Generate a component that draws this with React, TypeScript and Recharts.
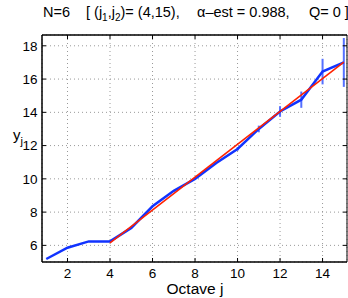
import { ComposedChart, Line, XAxis, YAxis, CartesianGrid, ErrorBar } from "recharts";

const octaves = [1, 2, 3, 4, 5, 6, 7, 8, 9, 10, 11, 12, 13, 14, 15];
const yj = [5.18, 5.86, 6.24, 6.24, 7.05, 8.35, 9.28, 10.0, 10.95, 11.8, 13.0, 14.05, 14.76, 16.45, 17.0];
const yErr = [0, 0, 0, 0, 0, 0, 0, 0, 0, 0.1, 0.2, 0.32, 0.49, 0.77, 1.47];
// regression line over (j1, j2) = (4, 15)
const fitJ = [4, 15];
const fitY = [6.15, 17.02];

const xTicks = [2, 4, 6, 8, 10, 12, 14];
const yTicks = [6, 8, 10, 12, 14, 16, 18];

const FONT = "'Liberation Sans', Arial, Helvetica, sans-serif";

const data = octaves.map((j, i) => {
  const fi = fitJ.indexOf(j);
  return { j, y: yj[i], err: yErr[i], fit: fi >= 0 ? fitY[fi] : undefined };
});

const XTick = (props: any) => {
  const { x, y, payload } = props;
  return (
    <g>
      <line x1={x} x2={x} y1={y} y2={y - 4} stroke="#000" />
      <line x1={x} x2={x} y1={35} y2={39} stroke="#000" />
      <text x={x} y={y + 15.5} textAnchor="middle" fontSize={13.5} fontFamily={FONT} fill="#000">
        {payload.value}
      </text>
    </g>
  );
};

const YTick = (props: any) => {
  const { x, y, payload } = props;
  return (
    <g>
      <line x1={x} x2={x + 4} y1={y} y2={y} stroke="#000" />
      <line x1={343} x2={347} y1={y} y2={y} stroke="#000" />
      <text x={x - 4.5} y={y + 4.7} textAnchor="end" fontSize={13.5} fontFamily={FONT} fill="#000">
        {payload.value}
      </text>
    </g>
  );
};

const App = () => {
  return (
    <div style={{ position: "absolute", left: 0, top: 0, width: 348, height: 298, background: "#fff" }}>
      <ComposedChart width={348} height={298} data={data} margin={{ top: 35, right: 1, bottom: 0, left: 0 }}>
        <CartesianGrid stroke="#999" strokeDasharray="1 3" />
        <XAxis
          dataKey="j"
          type="number"
          domain={[0.8, 15.15]}
          ticks={xTicks}
          height={36}
          tickSize={0}
          tickMargin={0}
          tick={<XTick />}
          axisLine={{ stroke: "#000", strokeWidth: 1.5 }}
          allowDataOverflow
        />
        <YAxis
          type="number"
          domain={[5, 18.65]}
          ticks={yTicks}
          width={42}
          tickSize={0}
          tickMargin={0}
          tick={<YTick />}
          axisLine={{ stroke: "#000", strokeWidth: 1.5 }}
          allowDataOverflow
        />
        <Line dataKey="y" stroke="#1133ff" strokeWidth={2.5} dot={false} isAnimationActive={false}>
          <ErrorBar dataKey="err" width={0} stroke="#5570ff" strokeWidth={2} direction="y" />
        </Line>
        <Line
          dataKey="fit"
          stroke="#ff2200"
          strokeWidth={1.6}
          dot={false}
          connectNulls
          isAnimationActive={false}
        />
        <line x1={42} x2={347} y1={35} y2={35} stroke="#000" strokeWidth={1.5} />
        <line x1={347} x2={347} y1={35} y2={262} stroke="#000" strokeWidth={1} />
        <g fontSize={14.5} fontFamily={FONT} fill="#000">
          <text x={43} y={17}>N=6</text>
          <text x={86} y={17}>
            {"[ (j"}
            <tspan dy={4} fontSize={10}>1</tspan>
            <tspan dy={-4}>,j</tspan>
            <tspan dy={4} fontSize={10}>2</tspan>
            <tspan dy={-4}>{")= (4,15),"}</tspan>
          </text>
          <text x={197} y={17}>α–est = 0.988,</text>
          <text x={309} y={17}>Q= 0 ]</text>
        </g>
        <text x={13} y={140} fontSize={15} fontFamily={FONT} fill="#000">
          y<tspan dy={5} fontSize={11}>j</tspan>
        </text>
        <text x={195} y={293.5} textAnchor="middle" fontSize={15.5} fontFamily={FONT} fill="#000">
          Octave j
        </text>
      </ComposedChart>
    </div>
  );
};

export default App;
